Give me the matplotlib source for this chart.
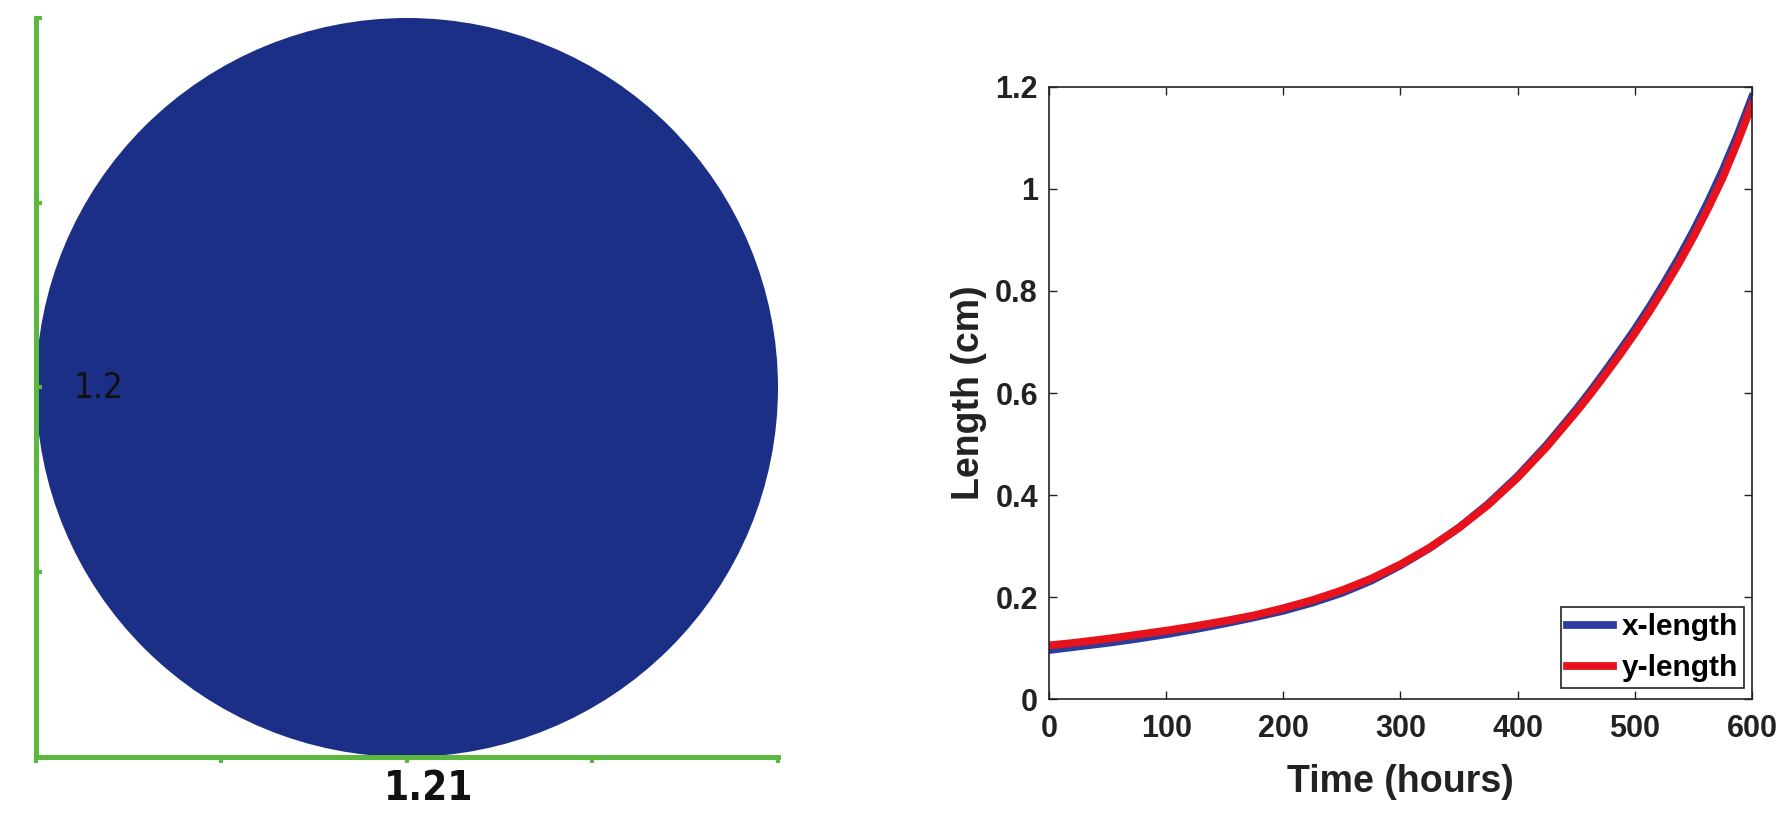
import matplotlib
matplotlib.use("Agg")
import matplotlib.pyplot as plt
from matplotlib.patches import Ellipse

# left panel: cell shape
cell_width = 1.21
cell_height = 1.2
width_label = "1.21"
height_label = "1.2"

# right panel: growth curves
time_h = [0, 25, 50, 75, 100, 125, 150, 175, 200, 225, 250, 275, 300,
          325, 350, 375, 400, 425, 450, 462.5, 475, 487.5, 500, 512.5, 525,
          537.5, 550, 562.5, 575, 587.5, 600]
x_length = [0.096, 0.103, 0.110, 0.118, 0.127, 0.137, 0.148, 0.160, 0.173,
            0.189, 0.208, 0.232, 0.262, 0.296, 0.336, 0.383, 0.437, 0.499,
            0.568, 0.605, 0.644, 0.684, 0.725, 0.769, 0.816, 0.865, 0.918,
            0.975, 1.037, 1.105, 1.180]
y_length = [0.105, 0.111, 0.118, 0.126, 0.134, 0.143, 0.153, 0.164, 0.178,
            0.194, 0.213, 0.236, 0.264, 0.297, 0.336, 0.381, 0.434, 0.495,
            0.563, 0.599, 0.637, 0.676, 0.717, 0.760, 0.806, 0.854, 0.906,
            0.962, 1.022, 1.091, 1.166]
x_ticks = [0, 100, 200, 300, 400, 500, 600]
y_ticks = [0, 0.2, 0.4, 0.6, 0.8, 1.0, 1.2]
y_ticklabels = ["0", "0.2", "0.4", "0.6", "0.8", "1", "1.2"]

green = "#5cb93f"
navy = "#1c2f87"
W, H = 1790, 813

fig = plt.figure(figsize=(W / 100, H / 100), dpi=100)

# ---- left: ellipse with green axes
ax1 = fig.add_axes([36 / W, (H - 757) / H, 742 / W, 739 / H])
ax1.add_patch(Ellipse((cell_width / 2, cell_height / 2), cell_width, cell_height,
                      facecolor=navy, edgecolor="none", zorder=1))
ax1.set_xlim(0, cell_width)
ax1.set_ylim(0, cell_height)
for s in ["top", "right"]:
    ax1.spines[s].set_visible(False)
for s in ["left", "bottom"]:
    ax1.spines[s].set_color(green)
    ax1.spines[s].set_linewidth(3.6)
    ax1.spines[s].set_zorder(3)
ax1.set_xticks([cell_width * i / 4 for i in range(5)])
ax1.set_yticks([cell_height * i / 4 for i in range(5)])
ax1.tick_params(axis="x", direction="out", length=4, width=3, color=green,
                labelbottom=False)
ax1.tick_params(axis="y", direction="in", length=4, width=3, color=green,
                labelleft=False)
ax1.text(0.64, -0.052, width_label, ha="center", va="center", fontsize=29,
         family="DejaVu Sans", fontstretch="condensed", fontweight="bold",
         color="#111111", clip_on=False)
ax1.text(0.102, 0.6, height_label, ha="center", va="center", fontsize=25,
         family="DejaVu Sans", fontstretch="condensed", fontweight="medium",
         color="#111111", zorder=4)

# ---- right: length over time
ax2 = fig.add_axes([1049 / W, (H - 699) / H, 703 / W, 612 / H])
ax2.plot(time_h, x_length, color="#2a3c9c", lw=5.6, label="x-length",
         solid_joinstyle="round")
ax2.plot(time_h, y_length, color="#e8121c", lw=5.6, label="y-length",
         solid_joinstyle="round")
ax2.set_xlim(0, 600)
ax2.set_ylim(0, 1.2)
ax2.set_xticks(x_ticks)
ax2.set_yticks(y_ticks)
ax2.set_yticklabels(y_ticklabels)
for s in ax2.spines.values():
    s.set_linewidth(1.2)
    s.set_color("#222222")
ax2.tick_params(direction="in", length=6, width=1, top=True, right=True,
                labelsize=22, colors="#222222")
ax2.tick_params(axis="x", pad=11)
ax2.tick_params(axis="y", pad=8)
for lab in ax2.get_xticklabels() + ax2.get_yticklabels():
    lab.set_fontweight("bold")
    lab.set_family("Liberation Sans")
ax2.set_xlabel("Time (hours)", fontsize=27, fontweight="bold",
               family="Liberation Sans", color="#222222", labelpad=14)
ax2.set_ylabel("Length (cm)", fontsize=27, fontweight="bold",
               family="Liberation Sans", color="#222222", labelpad=6)
leg = ax2.legend(loc="lower right", bbox_to_anchor=(0.989, 0.018),
                 borderaxespad=0, fancybox=False, framealpha=1,
                 edgecolor="#222222", handlelength=1.55, handletextpad=0.3,
                 borderpad=0.2, labelspacing=0.42,
                 prop={"family": "Liberation Sans", "weight": "bold", "size": 21.5})
leg.get_frame().set_linewidth(1.2)

fig.savefig("out.png", dpi=100)
